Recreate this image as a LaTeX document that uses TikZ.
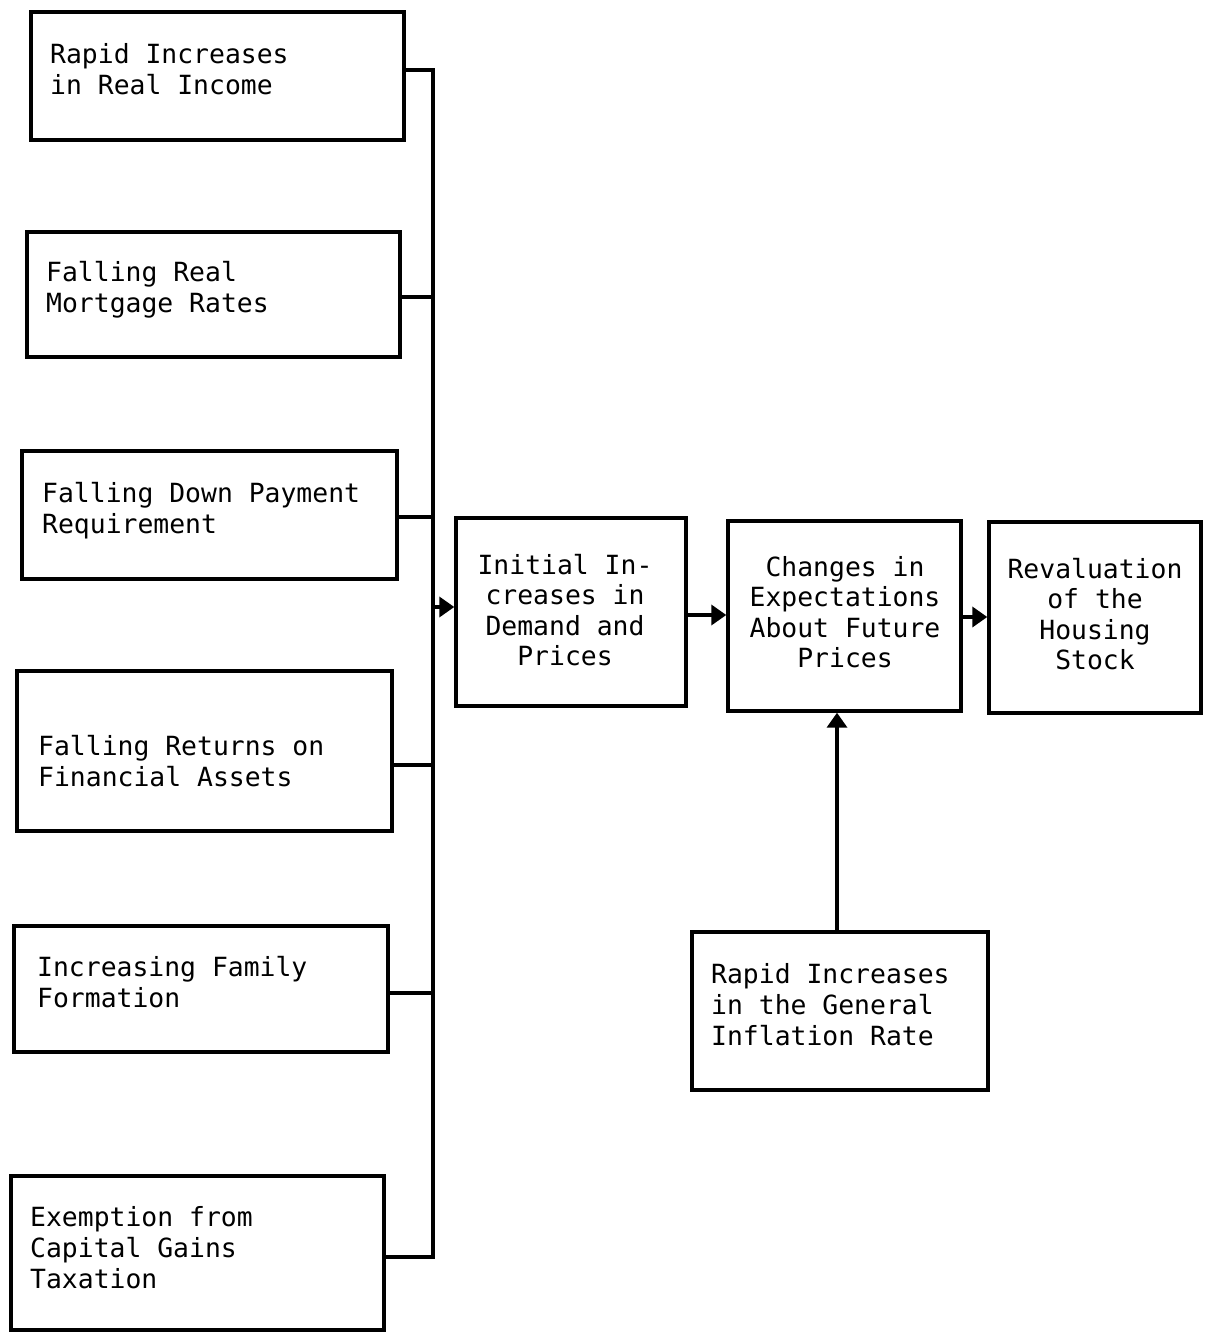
\documentclass[tikz,border=0pt]{standalone}
\usepackage{fontspec}
\newfontfamily\labelfont{DejaVu Sans Mono}
\usetikzlibrary{fit,arrows.meta}
\begin{document}
\begin{tikzpicture}[x=1pt,y=-1pt,
  box/.style={draw,line width=3.4pt,inner sep=0pt},
  lbl/.style={inner sep=0pt,align=left,font=\labelfont\fontsize{26.4}{31}\selectfont},
  clbl/.style={inner sep=0pt,align=center,anchor=north,font=\labelfont\fontsize{26.4}{30.5}\selectfont},
  link/.style={line width=3.6pt},
  arr/.style={line width=3.6pt,-{Triangle[length=15pt,width=20pt]}}]
\useasboundingbox (0,0) rectangle (1204,1332);
% factor boxes on the left
\node[box,fit={(31,12) (404,140)}] (b1) {};
\node[box,fit={(27,232) (400,357)}] (b2) {};
\node[box,fit={(22,451) (397,579)}] (b3) {};
\node[box,fit={(17,671) (392,831)}] (b4) {};
\node[box,fit={(14,926) (388,1052)}] (b5) {};
\node[box,fit={(11,1176) (384,1330)}] (b6) {};
\node[lbl,anchor=north west] (t1) at (50,43) {Rapid Increases\\in Real Income};
\node[lbl,anchor=north west] (t2) at (46,261) {Falling Real\\Mortgage Rates};
\node[lbl,anchor=north west] (t3) at (42,482) {Falling Down Payment\\Requirement};
\node[lbl,anchor=north west] (t4) at (38,735) {Falling Returns on\\Financial Assets};
\node[lbl,anchor=north west] (t5) at (37,956) {Increasing Family\\Formation};
\node[lbl,anchor=north west] (t6) at (30,1206) {Exemption from\\Capital Gains\\Taxation};
% chain of effects
\node[box,fit={(456,518) (686,706)}] (init) {};
\node[box,fit={(728,521) (961,711)}] (chg) {};
\node[box,fit={(989,522) (1201,713)}] (rev) {};
\node[box,fit={(692,932) (988,1090)}] (infl) {};
\node[clbl] (tinit) at (565,554) {Initial In-\\creases in\\Demand and\\Prices};
\node[clbl] (tchg) at (845,556) {Changes in\\Expectations\\About Future\\Prices};
\node[clbl] (trev) at (1095,558) {Revaluation\\of the\\Housing\\Stock};
\node[lbl,anchor=north west] (tinfl) at (711,963) {Rapid Increases\\in the General\\Inflation Rate};
% collecting bus
\coordinate (j1) at (433,70);
\coordinate (j2) at (433,297);
\coordinate (j3) at (433,517);
\coordinate (j4) at (433,765);
\coordinate (j5) at (433,993);
\coordinate (j6) at (433,1257);
\coordinate (jin) at (433,607);
\draw[link,line cap=rect] (j1) -- (j6);
\draw[link] (b1.east |- j1) -- (j1);
\draw[link] (b2.east |- j2) -- (j2);
\draw[link] (b3.east |- j3) -- (j3);
\draw[link] (b4.east |- j4) -- (j4);
\draw[link] (b5.east |- j5) -- (j5);
\draw[link] (b6.east |- j6) -- (j6);
\draw[arr] (jin) -- (init.west |- jin);
% arrows between effects
\coordinate (a1) at (700,615);
\coordinate (a2) at (975,617);
\coordinate (a3) at (837,800);
\draw[arr] (init.east |- a1) -- (chg.west |- a1);
\draw[arr] (chg.east |- a2) -- (rev.west |- a2);
\draw[arr] (infl.north -| a3) -- (chg.south -| a3);
\end{tikzpicture}
\end{document}
